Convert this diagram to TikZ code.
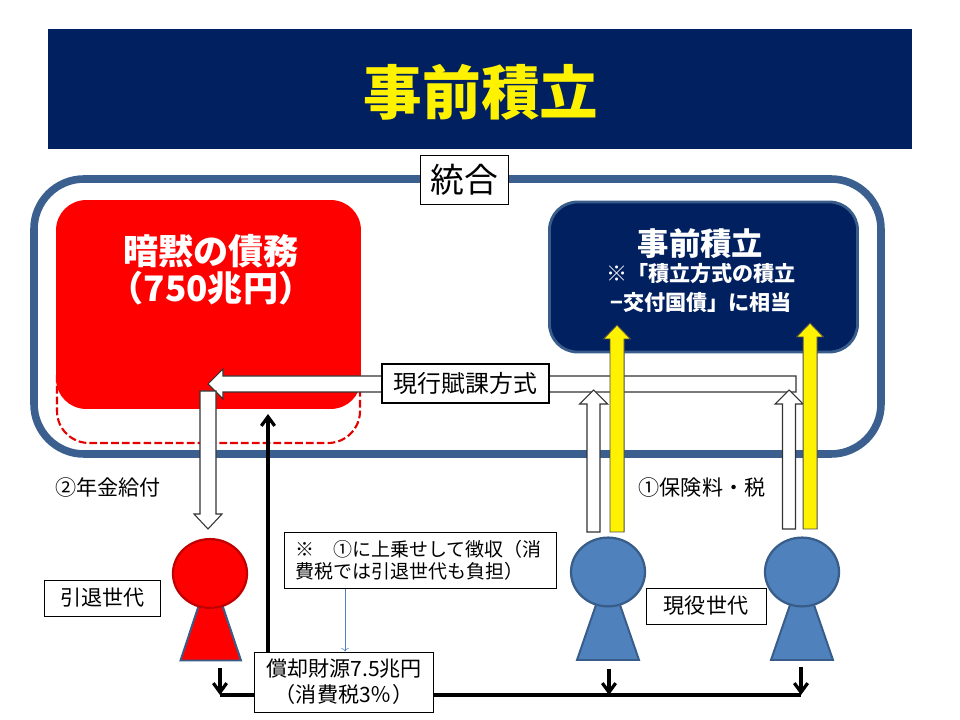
\documentclass[tikz,border=0pt]{standalone}
\usepackage{fontspec}
\setmainfont{Noto Sans CJK JP}
\usetikzlibrary{shapes.geometric, arrows.meta}

\definecolor{navy}{HTML}{002060}
\definecolor{frameblue}{HTML}{3B6090}
\definecolor{personblue}{HTML}{4F81BD}
\definecolor{edgeblue}{HTML}{385D8A}
\definecolor{edgered}{HTML}{C00000}

\newcommand{\pxsize}[2]{\fontsize{#1}{#2}\selectfont}

\tikzset{
  labelbox/.style={draw=black, fill=white, line width=0.7pt, inner sep=0pt, align=center},
  blockarrow/.style={draw=black!80, fill=white, line width=0.75pt, line join=miter},
  yellowarrow/.style={draw=black!70, fill=yellow, line width=0.7pt},
  head/.style={ellipse, inner sep=0pt, minimum width=1.85cm, minimum height=1.72cm, line width=1.6pt},
  busline/.style={line width=2.3pt},
  bustip/.style={-{Straight Barb[length=6.5pt, width=9.5pt]}}
}

\begin{document}
\begin{tikzpicture}[x=0.025cm, y=-0.025cm]
      \useasboundingbox (0, 0) rectangle (960, 720);

      % title band
      \node[fill=navy, minimum width=21.6cm, minimum height=3cm, inner sep=0pt] (band) at (480, 89) {};
      \node[text=yellow, font=\pxsize{41.7pt}{41.7pt}\bfseries] (title) at (481, 92) {事前積立};

      % frame and the two funds
      \draw[frameblue, line width=5.4pt, rounded corners=1.25cm] (34, 179) rectangle (881, 454);
      \draw[red!90!black, line width=1.5pt, dash pattern=on 5.5pt off 2.2pt, rounded corners=0.8cm] (57, 375) -- (57, 443) -- (360, 443) -- (360, 375);
      \node[fill=red, rounded corners=0.75cm, minimum width=7.62cm, minimum height=5.22cm, inner sep=0pt] (debt) at (208.5, 304.5) {};
      \node[text=white, align=center, font=\pxsize{25pt}{26.5pt}\bfseries] (debttext) at (211, 270) {暗黙の債務\\（750兆円）};
      \node[fill=navy, draw=edgeblue, line width=2pt, rounded corners=0.7cm, minimum width=7.7cm, minimum height=3.75cm, inner sep=0pt] (prefund) at (703.5, 277) {};
      \node[text=white, font=\pxsize{22.3pt}{22.3pt}\bfseries] (prefundtext) at (700.5, 244) {事前積立};
      \node[text=white, align=center, font=\pxsize{15pt}{20.5pt}\bfseries] (prefundnote) at (701, 288) {※「積立方式の積立\\−交付国債」に相当};
      \node[labelbox, minimum width=2.18cm, minimum height=1.2cm, font=\pxsize{24pt}{24pt}] (merge) at (464.5, 180) {統合};

      % pay-as-you-go flow
      \draw[blockarrow] (796, 376) -- (223, 376) -- (223, 369) -- (208, 384) -- (223, 399) -- (223, 392) -- (796, 392) -- cycle;
      \foreach \ax/\abot in {593.5/532, 789/529}
        \draw[blockarrow] (\ax-6.5, \abot) -- (\ax-6.5, 404) -- (\ax-14, 404) -- (\ax, 390) -- (\ax+14, 404) -- (\ax+6.5, 404) -- (\ax+6.5, \abot) -- cycle;
      \foreach \ax/\atip/\abot in {617/325/532, 810/323/529}
        \draw[yellowarrow] (\ax-7, \abot) -- (\ax-7, \atip+14) -- (\ax-13.5, \atip+14) -- (\ax, \atip) -- (\ax+13.5, \atip+14) -- (\ax+7, \atip+14) -- (\ax+7, \abot) -- cycle;
      \draw[blockarrow] (200, 391) -- (200, 514) -- (194, 514) -- (208, 529) -- (222, 514) -- (216, 514) -- (216, 391) -- cycle;
      \node[labelbox, line width=1.4pt, minimum width=4.18cm, minimum height=0.98cm, font=\pxsize{17pt}{17pt}] (payg) at (465.5, 383.5) {現行賦課方式};

      \node[font=\pxsize{15pt}{15pt}] (benefit) at (108, 487) {②年金給付};
      \node[font=\pxsize{15pt}{15pt}] (premium) at (702, 487) {①保険料・税};

      % persons
      \draw[fill=red, draw=edgeblue, line width=1.4pt, line join=miter] (180.5, 660.5) -- (210.5, 570) -- (241, 660.5) -- cycle;
      \node[head, draw=edgered, fill=red] (retired) at (210, 573.5) {};
      \foreach \px/\pname in {608/workerl, 802/workerr} {
        \draw[fill=personblue, draw=edgeblue, line width=1.4pt] (\px-31, 660) -- (\px, 570) -- (\px+31, 660) -- cycle;
        \node[head, draw=edgeblue, fill=personblue] (\pname) at (\px, 572) {};
      }
      \node[labelbox, minimum width=2.88cm, minimum height=0.9cm, font=\pxsize{15pt}{15pt}] (retiredlabel) at (102.5, 598) {引退世代};
      \node[labelbox, minimum width=3cm, minimum height=0.9cm, font=\pxsize{15pt}{15pt}] (workerlabel) at (706, 606) {現役世代};

      % redemption money
      \coordinate (busl) at (220, 695);
      \coordinate (busm) at (609, 695);
      \coordinate (busr) at (801, 695);
      \coordinate (tap) at (345, 0);
      \coordinate (rise) at (268, 0);
      \coordinate (risetop) at (268, 414);
      \draw[busline] (busl) -- (busr);
      \foreach \bx/\btop in {busl/668, busm/669, busr/667}
        \draw[busline, bustip] (\bx |- 0, \btop) -- (\bx);
      \node[labelbox, minimum width=6.78cm, minimum height=1.38cm, text width=6.25cm, align=left, font=\pxsize{13.5pt}{15.5pt}] (note) at (420.5, 560.5) {※　①に上乗せして徴収（消\\費税では引退世代も負担）};
      \node[labelbox, minimum width=4.45cm, minimum height=1.5cm, font=\pxsize{15pt}{18.5pt}] (fund) at (344, 682) {償却財源7.5兆円\\（消費税3％）};
      \draw[personblue, ->] (note.south -| tap) -- (fund.north -| tap);
      \draw[busline, bustip] (fund.north -| rise) -- (risetop);
    \end{tikzpicture}
\end{document}
